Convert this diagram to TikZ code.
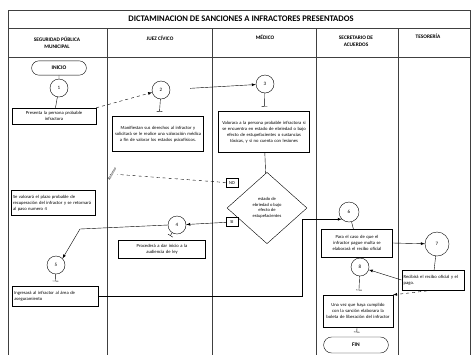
\documentclass[tikz,border=0pt]{standalone}
\usepackage{fontspec}
\setmainfont{Carlito}
\usetikzlibrary{shapes.geometric,shapes.misc}
\hyphenpenalty=10000
\exhyphenpenalty=10000

\begin{document}
\begin{tikzpicture}[x=0.35mm, y=-0.35mm, >=latex,
    caja/.style={draw, align=center, inner sep=2pt, font=\fontsize{4.6}{6}\selectfont},
    paso/.style={draw, circle, minimum size=6.3mm, inner sep=0pt, font=\fontsize{5}{6}\selectfont},
    term/.style={draw, rounded rectangle, minimum width=21.5mm, minimum height=5mm, font=\fontsize{5.5}{6}\selectfont\bfseries},
    encab/.style={align=center, font=\fontsize{5.3}{6.8}\selectfont\bfseries},
    opc/.style={draw, minimum width=4.2mm, minimum height=3.2mm, inner sep=1pt, font=\fontsize{4.5}{5}\selectfont},
    tee/.style={-|, shorten >=1.6mm}]

        \useasboundingbox (0,0) rectangle (472,355);

        % ==== MARCO Y CARRILES ====
        \draw[black!75] (8,10) -- (470,10);
        \draw[black!75] (8,28) -- (470,28);
        \draw[black!75] (8,57) -- (470,57);
        \draw[black!75] (8,10) -- (8,355);
        \draw[black!75] (470,10) -- (470,355);
        \foreach \x in {107,212,316,398}{
            \draw[black!75] (\x,28) -- (\x,355);
        }

        % ==== TITULO Y ENCABEZADOS ====
        \node[font=\fontsize{8.5}{10}\selectfont\bfseries] (titulo) at (241,19) {DICTAMINACION DE SANCIONES A INFRACTORES PRESENTADOS};
        \node[encab] (seguridad) at (57,43) {SEGURIDAD PÚBLICA\\ MUNICIPAL};
        \node[encab] (juez) at (160,38) {JUEZ CÍVICO};
        \node[encab] (medico) at (265,37) {MÉDICO};
        \node[encab] (secretario) at (356,41) {SECRETARIO DE\\ ACUERDOS};
        \node[encab] (tesoreria) at (428,36) {TESORERÍA};

        % ==== SEGURIDAD PUBLICA ====
        \node[term] (inicio) at (59,68) {INICIO};
        \node[paso] (p1) at (59,88) {1};
        \node[caja, text width=28mm, minimum height=5.6mm] (c1) at (54,116) {Presenta la persona probable\\ infractora};
        \node[caja, text width=28mm, minimum height=8.8mm, align=left] (cret) at (53,203) {Se valorará el plazo probable de recuperación del infractor y se retornará al paso numero 4};
        \node[paso] (p5) at (56,265) {5};
        \node[caja, text width=28.5mm, minimum height=7mm, align=left] (c5) at (55,296) {Ingresará al infractor al área de aseguramiento};

        % ==== JUEZ CIVICO ====
        \node[paso] (p2) at (161,90) {2};
        \node[caja, text width=30.5mm, minimum height=12.3mm] (c2) at (158,134) {Manifiestan sus derechos al infractor y solicitará se le realice una valoración médica a fin de valorar los estados psicofísicos.};
        \node[rotate=60, font=\fontsize{4}{5}\selectfont] (ret) at (112,174) {Retorno};
        \node[paso] (p4) at (177,225) {4};
        \node[caja, text width=29mm, minimum height=6.4mm] (c4) at (162,249) {Procederá a dar inicio a la\\ audiencia de ley};

        % ==== MEDICO ====
        \node[paso] (p3) at (265,84) {3};
        \node[caja, text width=30.5mm, minimum height=14.4mm] (c3) at (264,132) {Valorara a la persona probable infractora si se encuentra en estado de ebriedad o bajo efecto de estupefacientes o sustancias tóxicas, y si no cuenta con lesiones};
        \node[draw, diamond, aspect=1.1, minimum width=28mm, minimum height=25mm, inner sep=0pt, align=center, font=\fontsize{4.5}{5.5}\selectfont] (dec) at (267,208) {estado de\\ ebriedad o bajo\\ efecto de\\ estupefacientes};
        \node[opc] (no) at (232,183) {NO};
        \node[opc] (si) at (232,222) {SI};

        % ==== SECRETARIO DE ACUERDOS ====
        \node[paso, minimum size=7mm] (p6) at (349,212) {6};
        \node[caja, text width=23.5mm, minimum height=9.8mm] (c6) at (357,243) {Para el caso de que el infractor pague multa se elaborará el recibo oficial};
        \node[paso] (p8) at (360,267) {8};
        \node[caja, text width=23mm, minimum height=11.2mm] (c8) at (358,311) {Una vez que haya cumplido con la sanción elaborara la boleta de liberación del infractor};
        \node[term, minimum width=25mm, minimum height=5.6mm] (fin) at (356,345) {FIN};

        % ==== TESORERIA ====
        \node[paso, minimum size=8.4mm] (p7) at (437,244) {7};
        \node[caja, text width=20.5mm, minimum height=7mm, align=left] (c7) at (433,280) {Recibirá el recibo oficial y el pago.};
        \coordinate (k56) at (302,296);

        % ==== CONECTORES ====
        \draw (inicio) -- (p1);
        \draw (p1) -- (c1);
        \draw[->, dashed] (c1.north east) -- (p2);
        \draw[tee] (p2) -- (c2);
        \draw[->, shorten <=7mm] (p2) -- (p3);
        \draw[tee] (p3) -- (c3);
        \draw (c3) -- (dec);
        \draw[dashed] (no) -- (ret);
        \draw[->] (si) -- (p4);
        \draw[tee] (p4) -- (c4);
        \draw[->] (p4.west) -- (80,229) -- (p5.north east);
        \draw[tee] (p5) -- (c5);
        \draw[->] (c5.east) -- (k56) |- (p6.south west);
        \draw (p6) -- (c6);
        \draw[->] (c6.east) -- (p7);
        \draw (p7) -- (c7);
        \draw[->] (c7.west) -- (p8);
        \draw[->, dashed] (c7.south) -- (c8.north east);
        \draw[tee] (p8) -- (c8);
        \draw[tee] (c8) -- (fin);

\end{tikzpicture}
\end{document}
